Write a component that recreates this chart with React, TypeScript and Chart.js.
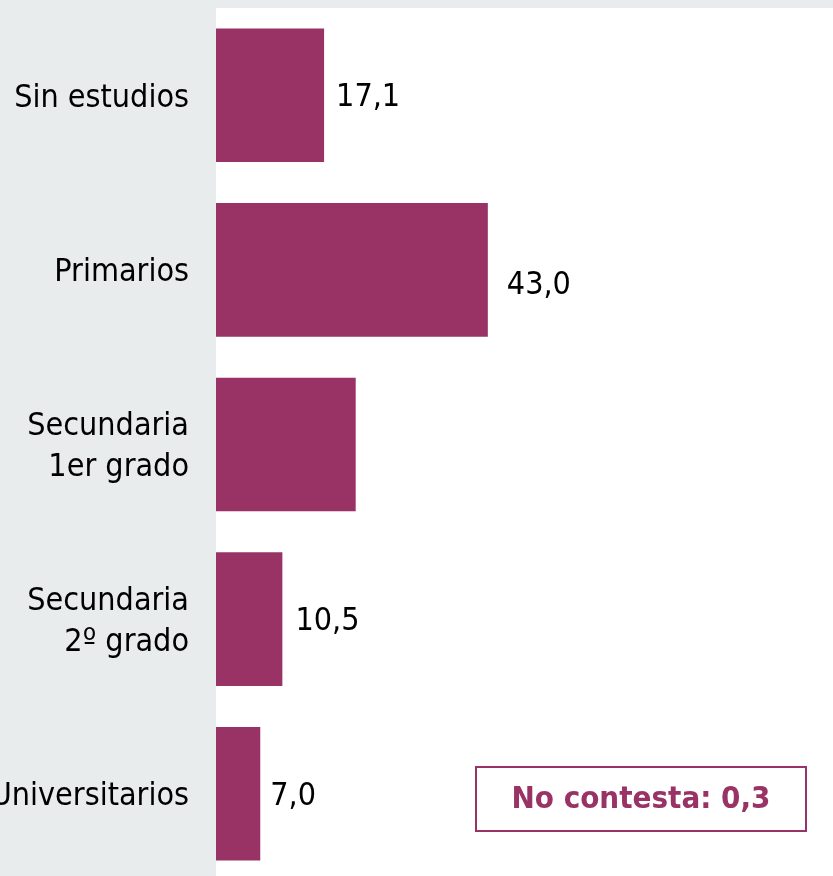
import React, { useEffect, useRef } from "react";
import { Chart, registerables } from "chart.js";

Chart.register(...registerables);

// ---- data ----
const categories: string[][] = [
  ["Sin estudios"],
  ["Primarios"],
  ["Secundaria", "1er grado"],
  ["Secundaria", "2º grado"],
  ["Universitarios"],
];
const values: number[] = [17.1, 43.0, 22.1, 10.5, 7.0];
const showValueLabel: boolean[] = [true, true, false, true, true];
const noAnswerLabel = "No contesta";
const noAnswerValue = 0.3;
const axisMax = 97.6;

// ---- style ----
const FONT = "'DejaVu Sans Condensed', 'DejaVu Sans', sans-serif";
const BAR_COLOR = "#993366";
const GRAY = "#e9ecec";

const fmt = (v: number) => v.toFixed(1).replace(".", ",");

const bgPlugin = {
  id: "bgPlugin",
  beforeDraw(chart: any) {
    const { ctx, chartArea, width, height } = chart;
    ctx.save();
    ctx.fillStyle = GRAY;
    ctx.fillRect(0, 0, width, height);
    ctx.fillStyle = "#ffffff";
    ctx.fillRect(
      chartArea.left,
      chartArea.top,
      chartArea.right - chartArea.left,
      chartArea.bottom - chartArea.top
    );
    ctx.restore();
  },
};

const valueLabelPlugin = {
  id: "valueLabels",
  afterDatasetsDraw(chart: any, _args: any, opts: any) {
    const { ctx } = chart;
    const meta = chart.getDatasetMeta(0);
    ctx.save();
    ctx.font = `32px ${FONT}`;
    ctx.fillStyle = "#000000";
    ctx.textAlign = "left";
    ctx.textBaseline = "alphabetic";
    meta.data.forEach((bar: any, i: number) => {
      if (!showValueLabel[i]) return;
      const dx = (opts.dx && opts.dx[i]) || 12;
      const dy = (opts.dy && opts.dy[i]) || 0;
      ctx.fillText(fmt(values[i]), bar.x + dx, bar.y + 11 + dy);
    });
    ctx.restore();
  },
};

export default function App() {
  const canvasRef = useRef<HTMLCanvasElement | null>(null);

  useEffect(() => {
    const canvas = canvasRef.current;
    if (!canvas) return;
    const chart = new Chart(canvas, {
      type: "bar",
      data: {
        labels: categories,
        datasets: [
          {
            data: values,
            backgroundColor: BAR_COLOR,
            borderWidth: 0,
            categoryPercentage: 1,
            barPercentage: 0.765,
          },
        ],
      },
      options: {
        indexAxis: "y",
        responsive: false,
        animation: false,
        devicePixelRatio: 1,
        layout: { padding: { top: 8, left: 0, right: 0, bottom: 0 } },
        plugins: {
          legend: { display: false },
          tooltip: { enabled: false },
          valueLabels: { dx: [12, 19, 12, 13, 10], dy: [0, 13, 0, 0, 0] },
        } as any,
        scales: {
          x: {
            display: false,
            min: 0,
            max: axisMax,
          },
          y: {
            grid: { display: false, drawTicks: false },
            border: { display: false },
            afterFit(scale: any) {
              scale.width = 216;
              scale.paddingTop = 0;
              scale.paddingBottom = 0;
            },
            ticks: {
              padding: 27,
              labelOffset: 3,
              color: "#000000",
              font: { size: 32, family: FONT, lineHeight: 1.27 },
            },
          },
        },
      },
      plugins: [bgPlugin, valueLabelPlugin],
    });
    return () => chart.destroy();
  }, []);

  return (
    <div
      style={{
        position: "fixed",
        left: 0,
        top: 0,
        width: 833,
        height: 876,
        overflow: "hidden",
        background: GRAY,
      }}
    >
      <canvas ref={canvasRef} width={833} height={881} style={{ display: "block" }} />
      <div
        style={{
          position: "absolute",
          left: 475,
          top: 766,
          width: 332,
          height: 66,
          boxSizing: "border-box",
          border: `2px solid ${BAR_COLOR}`,
          display: "flex",
          alignItems: "center",
          justifyContent: "center",
          fontFamily: FONT,
          fontWeight: "bold",
          fontSize: 31,
          color: BAR_COLOR,
          paddingBottom: 5,
        }}
      >
        {`${noAnswerLabel}: ${fmt(noAnswerValue)}`}
      </div>
    </div>
  );
}
